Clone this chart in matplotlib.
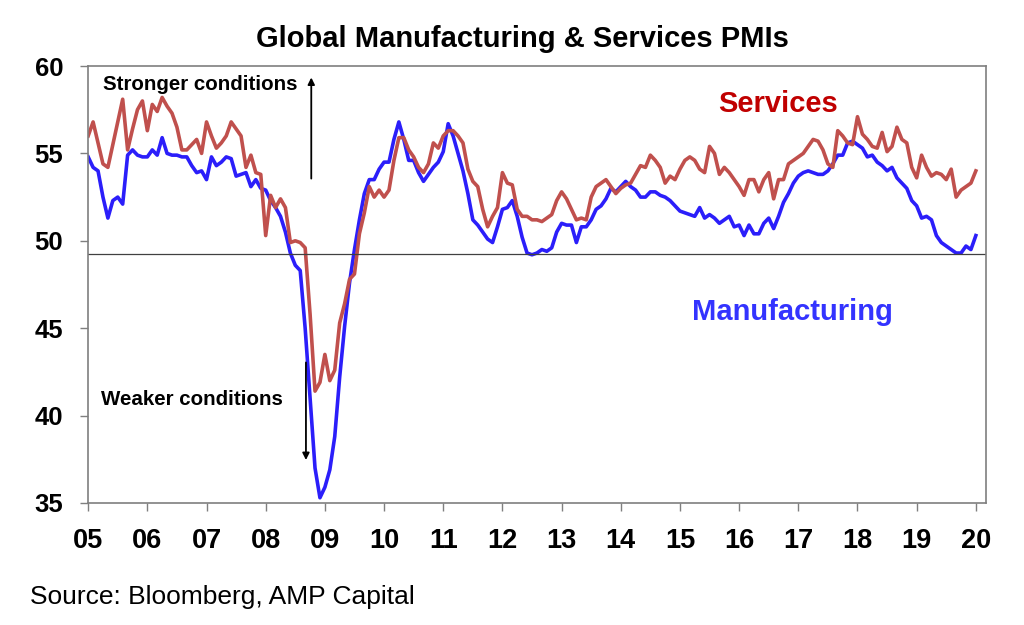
import numpy as np
import matplotlib
matplotlib.use('Agg')
from matplotlib import pyplot as plt

# Monthly PMI readings, Jan 2005 - Jan 2020
services = [56.0, 56.8, 55.6, 54.4, 54.2, 55.5, 56.8, 58.1, 55.2, 56.4, 57.5, 58.0,
            56.3, 57.8, 57.4, 58.2, 57.7, 57.3, 56.5, 55.2, 55.2, 55.5, 55.8, 55.0,
            56.8, 56.0, 55.3, 55.6, 56.0, 56.8, 56.4, 56.0, 54.2, 54.9, 53.9, 53.8,
            50.3, 52.6, 51.9, 52.4, 51.9, 49.9, 50.0, 49.9, 49.6, 45.8, 41.4, 41.9,
            43.5, 42.0, 42.6, 45.3, 46.4, 47.8, 48.1, 50.4, 51.6, 53.1, 52.5, 52.9,
            52.5, 52.9, 54.6, 55.9, 55.9, 55.2, 54.8, 54.2, 53.9, 54.4, 55.6, 55.3,
            56.0, 56.3, 56.3, 56.0, 55.6, 54.1, 53.4, 53.1, 51.8, 50.8, 51.4, 51.9,
            53.9, 53.3, 53.2, 51.8, 51.4, 51.4, 51.2, 51.2, 51.1, 51.3, 51.5, 52.3,
            52.8, 52.4, 51.8, 51.2, 51.3, 51.2, 52.5, 53.1, 53.3, 53.5, 53.1, 52.7,
            53.0, 53.2, 53.3, 53.8, 54.3, 54.2, 54.9, 54.6, 54.2, 53.3, 53.7, 53.5,
            54.1, 54.6, 54.8, 54.6, 54.1, 53.9, 55.4, 55.0, 53.8, 54.2, 53.9, 53.5,
            53.1, 52.6, 53.5, 53.5, 52.8, 53.5, 53.9, 52.4, 53.5, 53.5, 54.4, 54.6,
            54.8, 55.0, 55.4, 55.8, 55.7, 55.2, 54.4, 54.2, 56.3, 56.0, 55.6, 55.5,
            57.1, 56.1, 55.8, 55.4, 55.3, 56.2, 55.1, 55.4, 56.5, 55.8, 55.6, 54.2,
            53.6, 54.9, 54.2, 53.7, 53.9, 53.8, 53.5, 54.1, 52.5, 52.9, 53.1, 53.3,
            54.0]

manufacturing = [54.8, 54.2, 54.0, 52.5, 51.3, 52.3, 52.5, 52.1, 54.9, 55.2, 54.9, 54.8,
                 54.8, 55.2, 54.9, 55.9, 55.0, 54.9, 54.9, 54.8, 54.8, 54.3, 53.9, 54.0,
                 53.5, 54.8, 54.3, 54.5, 54.8, 54.7, 53.7, 53.8, 53.9, 53.1, 53.5, 53.0,
                 52.9, 52.3, 51.9, 51.4, 50.5, 49.3, 48.6, 48.3, 45.0, 41.0, 37.0, 35.3,
                 35.9, 36.9, 38.8, 42.2, 45.1, 47.6, 49.5, 51.2, 52.7, 53.5, 53.5, 54.1,
                 54.5, 54.5, 55.8, 56.8, 55.8, 54.6, 54.6, 53.9, 53.4, 53.8, 54.2, 54.5,
                 55.1, 56.7, 56.0, 55.0, 54.0, 52.7, 51.2, 50.9, 50.5, 50.1, 49.9, 50.8,
                 51.8, 51.9, 52.3, 51.4, 50.2, 49.3, 49.2, 49.3, 49.5, 49.4, 49.6, 50.5,
                 51.0, 50.9, 50.9, 49.9, 50.8, 50.8, 51.2, 51.8, 52.0, 52.4, 53.0, 52.8,
                 53.1, 53.4, 53.1, 52.9, 52.5, 52.5, 52.8, 52.8, 52.6, 52.5, 52.3, 52.0,
                 51.7, 51.6, 51.5, 51.4, 51.9, 51.3, 51.5, 51.3, 51.0, 51.2, 51.4, 50.8,
                 50.9, 50.3, 50.9, 50.4, 50.4, 51.0, 51.3, 50.7, 51.4, 52.2, 52.7, 53.3,
                 53.7, 53.9, 54.0, 53.9, 53.8, 53.8, 54.0, 54.4, 54.9, 54.9, 55.6, 55.7,
                 55.5, 55.3, 54.8, 54.9, 54.5, 54.3, 54.0, 54.2, 53.6, 53.3, 53.0, 52.3,
                 52.0, 51.3, 51.4, 51.2, 50.3, 49.9, 49.7, 49.5, 49.3, 49.3, 49.7, 49.5,
                 50.3]

years = list(range(2005, 2021))
year_labels = ['05', '06', '07', '08', '09', '10', '11', '12', '13', '14',
               '15', '16', '17', '18', '19', '20']
threshold = 49.25

t = 2005 + np.arange(len(services)) / 12.0

plt.rcParams['font.family'] = ['Liberation Sans', 'DejaVu Sans']

fig = plt.figure(figsize=(10.24, 6.25), dpi=100)
ax = fig.add_axes([0.0861, 0.1952, 0.8767, 0.6992])

ax.plot(t, manufacturing, color='#2B1EFA', linewidth=2.6, solid_joinstyle='round')
ax.plot(t, services, color='#C0504D', linewidth=2.6, solid_joinstyle='round')
ax.axhline(threshold, color='#404040', linewidth=0.9)

ax.set_xlim(2005, 2020.17)
ax.set_ylim(35, 60)
ax.set_xticks(years)
ax.set_xticklabels(year_labels)
ax.set_yticks([35, 40, 45, 50, 55, 60])

for s in ax.spines.values():
    s.set_color('#7F7F7F')
    s.set_linewidth(1.2)
ax.tick_params(axis='both', direction='out', length=6, width=1, color='#7F7F7F')
ax.tick_params(axis='x', pad=12, labelsize=19.5)
ax.tick_params(axis='y', pad=12, labelsize=18.5)
for lab in ax.get_xticklabels() + ax.get_yticklabels():
    lab.set_fontweight('bold')

fig.text(0.51, 0.937, 'Global Manufacturing & Services PMIs', ha='center', va='center',
         fontsize=21, fontweight='bold')

ax.text(2005.25, 58.95, 'Stronger conditions', fontsize=14.8, fontweight='bold',
        ha='left', va='center')
ax.annotate('', xy=(2008.77, 59.5), xytext=(2008.77, 53.4),
            arrowprops=dict(arrowstyle='-|>', color='black', lw=1.3, mutation_scale=10))
ax.text(2005.22, 40.9, 'Weaker conditions', fontsize=14.8, fontweight='bold',
        ha='left', va='center')
ax.annotate('', xy=(2008.68, 37.3), xytext=(2008.68, 43.2),
            arrowprops=dict(arrowstyle='-|>', color='black', lw=1.3, mutation_scale=10))

ax.text(2016.65, 57.85, 'Services', color='#C00000', fontsize=21, fontweight='bold',
        ha='center', va='center')
ax.text(2016.9, 45.9, 'Manufacturing', color='#3333FF', fontsize=21, fontweight='bold',
        ha='center', va='center')

fig.text(0.029, 0.045, 'Source: Bloomberg, AMP Capital', fontsize=19, ha='left', va='center')

fig.savefig('out.png', dpi=100)
